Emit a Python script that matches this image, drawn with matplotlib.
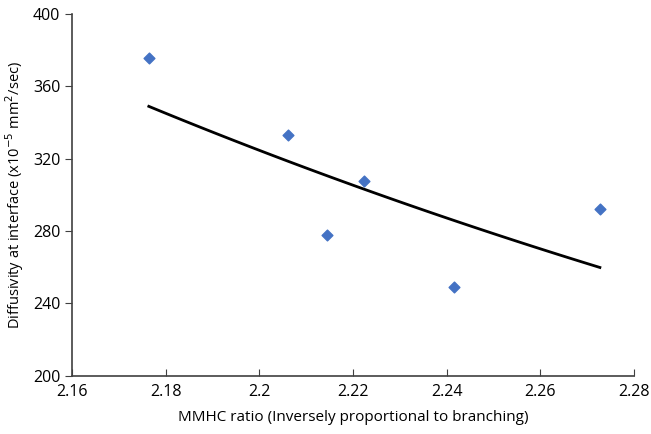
import matplotlib.pyplot as plt
import numpy as np

plt.rcParams['font.family'] = ['Open Sans', 'DejaVu Sans']

# data
mmhc = np.array([2.1764, 2.2061, 2.2145, 2.2224, 2.2416, 2.2727])
diffusivity = np.array([375.5, 333, 278, 307.5, 249, 292])

x_ticks = [2.16, 2.18, 2.2, 2.22, 2.24, 2.26, 2.28]
x_tick_labels = ['2.16', '2.18', '2.2', '2.22', '2.24', '2.26', '2.28']
y_ticks = [200, 240, 280, 320, 360, 400]

# exponential trendline (like Excel)
b, ln_a = np.polyfit(mmhc, np.log(diffusivity), 1)
xt = np.linspace(mmhc.min(), mmhc.max(), 100)
yt = np.exp(ln_a) * np.exp(b * xt)

fig = plt.figure(figsize=(6.51, 4.34), dpi=100)
ax = fig.add_axes([0.1106, 0.1343, 0.8634, 0.8334])

ax.plot(xt, yt, color='black', lw=2)
ax.scatter(mmhc, diffusivity, marker='D', s=30, color='#4472c4', zorder=3)

ax.set_xlim(2.16, 2.28)
ax.set_ylim(200, 400)
ax.set_xticks(x_ticks)
ax.set_xticklabels(x_tick_labels)
ax.set_yticks(y_ticks)

for s in ['top', 'right']:
    ax.spines[s].set_visible(False)
for s in ['left', 'bottom']:
    ax.spines[s].set_color('#404040')
    ax.spines[s].set_linewidth(1.2)

ax.tick_params(axis='x', direction='in', length=5, color='#404040', labelsize=11.5, pad=6)
ax.tick_params(axis='y', direction='out', length=5, color='#404040', labelsize=11.5)

ax.set_xlabel('MMHC ratio (Inversely proportional to branching)', fontsize=11, labelpad=7)
ax.set_ylabel('Diffusivity at interface (x10$^{-5}$ mm$^{2}$/sec)', fontsize=10.5, labelpad=5)

fig.savefig('out.png', dpi=100)
